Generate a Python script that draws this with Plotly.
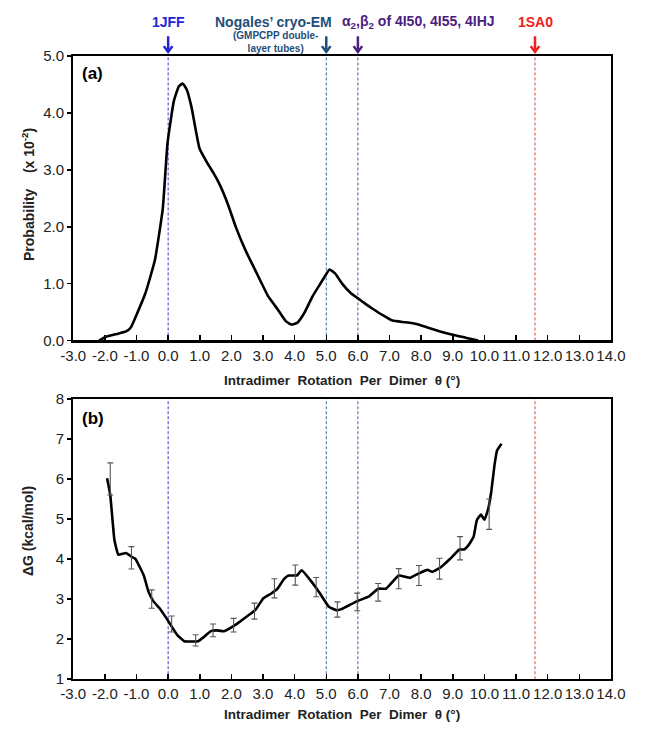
import plotly.graph_objects as go

# ---------------- data ----------------
# Panel (a): probability distribution (x 10^-2)
a_theta = [-2.18, -1.98, -1.58, -1.33, -1.18, -0.97, -0.72, -0.42, -0.17, -0.02, 0.18, 0.34, 0.46, 0.59,
           0.74, 0.99, 1.24, 1.45, 1.65, 1.9, 2.15, 2.45, 2.76, 3.16, 3.46, 3.72, 3.9, 4.08, 4.3, 4.57,
           4.78, 4.98, 5.1, 5.28, 5.5, 5.78, 5.98, 6.25, 6.49, 6.8, 7.09, 7.5, 7.85, 8.2, 8.6, 9.0, 9.4, 9.8]
a_prob = [0.0, 0.06, 0.12, 0.16, 0.23, 0.49, 0.83, 1.41, 2.32, 3.47, 4.21, 4.47, 4.52, 4.41,
          4.10, 3.38, 3.12, 2.93, 2.72, 2.38, 1.98, 1.58, 1.23, 0.78, 0.55, 0.34, 0.28, 0.31, 0.48, 0.78,
          0.97, 1.15, 1.25, 1.18, 1.0, 0.83, 0.75, 0.64, 0.55, 0.44, 0.35, 0.32, 0.29, 0.23, 0.16, 0.1, 0.05, 0.0]

# Panel (b): free energy profile
b_theta = [-1.93, -1.83, -1.70, -1.58, -1.45, -1.33, -1.18, -1.03, -0.77, -0.62, -0.47, -0.27, 0.03, 0.29,
           0.51, 0.95, 1.14, 1.35, 1.52, 1.77, 2.15, 2.56, 2.76, 3.01, 3.26, 3.46, 3.66, 3.81, 4.07, 4.22,
           4.47, 4.77, 5.08, 5.33, 5.48, 5.98, 6.34, 6.64, 6.89, 7.29, 7.65, 7.95, 8.2, 8.35, 8.61, 8.91,
           9.21, 9.36, 9.51, 9.66, 9.76, 9.89, 10.0, 10.12, 10.22, 10.32, 10.4, 10.54]
b_dg = [6.02, 5.6, 4.48, 4.11, 4.13, 4.15, 4.07, 4.0, 3.59, 3.18, 2.95, 2.77, 2.42, 2.1,
        1.95, 1.95, 2.06, 2.2, 2.22, 2.2, 2.37, 2.61, 2.73, 3.02, 3.14, 3.26, 3.5, 3.59, 3.59, 3.72,
        3.5, 3.18, 2.81, 2.72, 2.75, 2.95, 3.06, 3.26, 3.26, 3.59, 3.53, 3.65, 3.73, 3.68, 3.79, 4.0,
        4.24, 4.24, 4.36, 4.56, 4.97, 5.11, 4.98, 5.25, 5.7, 6.35, 6.71, 6.88]

# Error bars of panel (b)
e_theta = [-1.83, -1.16, -0.52, 0.11, 0.87, 1.42, 2.07, 2.73, 3.36, 4.02, 4.68, 5.35, 5.98, 6.64,
           7.29, 7.93, 8.58, 9.23, 10.15]
e_dg = [6.0, 4.03, 3.0, 2.38, 1.97, 2.22, 2.35, 2.7, 3.27, 3.6, 3.3, 2.74, 2.93, 3.17,
        3.51, 3.59, 3.76, 4.27, 5.12]
e_err = [0.4, 0.28, 0.23, 0.2, 0.14, 0.16, 0.17, 0.2, 0.24, 0.25, 0.24, 0.19, 0.22, 0.22,
         0.25, 0.25, 0.26, 0.29, 0.38]

# Reference structures
ref_theta = [0.0, 5.0, 6.0, 11.6]
ref_labels = ["1JFF", "Nogales’ cryo-EM",
              "α<sub>2</sub>,β<sub>2</sub> of 4I50, 4I55, 4IHJ", "1SA0"]
ref_label_x = [0.0, 3.33, 7.92, 11.6]
ref_colors = ["#2323d8", "#1f4e7a", "#4a2080", "#ee2020"]
line_colors = ["#3a3ad0", "#2f6aa8", "#6a4a9a", "#e84040"]
sub_label = "(GMPCPP double-<br>layer tubes)"

x_ticks = [v for v in range(-3, 15)]
a_yticks = [0, 1, 2, 3, 4, 5]
b_yticks = [1, 2, 3, 4, 5, 6, 7, 8]

# ---------------- figure ----------------
W, H = 646, 739
FONT = "Liberation Sans, Arial, sans-serif"

def py(px):  # pixel from top -> paper y
    return 1 - px / H

fig = go.Figure()

fig.add_trace(go.Scatter(x=a_theta, y=a_prob, mode="lines", xaxis="x", yaxis="y",
                         line=dict(color="black", width=2.6, shape="spline", smoothing=0.4),
                         showlegend=False))
fig.add_trace(go.Scatter(x=b_theta, y=b_dg, mode="lines", xaxis="x2", yaxis="y2",
                         line=dict(color="black", width=2.6, shape="spline", smoothing=0.3),
                         showlegend=False))
fig.add_trace(go.Scatter(x=e_theta, y=e_dg, mode="markers", xaxis="x2", yaxis="y2",
                         marker=dict(size=1, color="rgba(0,0,0,0)"),
                         error_y=dict(type="data", array=e_err, visible=True, color="#555555",
                                      thickness=1.1, width=3),
                         showlegend=False))

xdom = [63 / W, 625 / W]
common_x = dict(range=[-3, 14], tickvals=x_ticks, ticktext=[f"{v:.1f}" for v in x_ticks],
                ticks="inside", ticklen=5, tickwidth=1.5, tickcolor="black",
                showline=True, linewidth=2.2, linecolor="black", mirror=True,
                showgrid=False, zeroline=False,
                tickfont=dict(family=FONT, size=15, color="#222"))
common_y = dict(ticks="outside", ticklen=4, tickwidth=1.5, tickcolor="black",
                showline=True, linewidth=2.2, linecolor="black", mirror=True,
                showgrid=False, zeroline=False,
                tickfont=dict(family=FONT, size=15, color="#222"))

fig.update_layout(
    width=W, height=H, margin=dict(l=0, r=0, t=0, b=0),
    paper_bgcolor="white", plot_bgcolor="white",
    xaxis=dict(domain=xdom, anchor="y", **common_x),
    yaxis=dict(domain=[py(339.3), py(48.3)], anchor="x", range=[0, 5], tickvals=a_yticks,
               ticktext=[f"{v:.1f}" for v in a_yticks], **common_y),
    xaxis2=dict(domain=xdom, anchor="y2", **common_x),
    yaxis2=dict(domain=[py(686), py(399)], anchor="x2", range=[1, 8], tickvals=b_yticks,
                ticktext=[str(v) for v in b_yticks], **common_y),
)

shapes = []
for xv, c in zip(ref_theta, line_colors):
    for xr, yr in (("x", "y domain"), ("x2", "y2 domain")):
        shapes.append(dict(type="line", xref=xr, yref=yr, x0=xv, x1=xv, y0=0, y1=1,
                           line=dict(color=c, width=1, dash="3px,2px"), layer="below"))
# arrows above panel (a)
ytop, ybot = py(28), py(44)
yhead = py(38)
dx = 4.5 / 33.06
for xv, c in zip(ref_theta, ref_colors):
    shapes.append(dict(type="line", xref="x", yref="paper", x0=xv, x1=xv, y0=ytop, y1=ybot,
                       line=dict(color=c, width=2.5)))
    shapes.append(dict(type="path", xref="x", yref="paper",
                       path=f"M {xv - dx},{yhead} L {xv},{ybot} L {xv + dx},{yhead}",
                       line=dict(color=c, width=2.5)))
fig.update_layout(shapes=shapes)

ann = []
for lx, lab, c in zip(ref_label_x, ref_labels, ref_colors):
    ann.append(dict(xref="x", yref="paper", x=lx, y=py(13), text=f"<b>{lab}</b>",
                    showarrow=False, xanchor="center", yanchor="middle",
                    font=dict(family=FONT, size=14, color=c)))
ann.append(dict(xref="x", yref="paper", x=ref_label_x[1] + 0.05, y=py(34), text=f"<b>{sub_label}</b>",
                showarrow=False, xanchor="center", yanchor="middle", align="center",
                font=dict(family=FONT, size=10, color=ref_colors[1])))
# panel letters
ann.append(dict(xref="paper", yref="paper", x=70 / W, y=py(66), text="<b>(a)</b>", showarrow=False,
                xanchor="left", yanchor="middle", font=dict(family=FONT, size=17, color="black")))
ann.append(dict(xref="paper", yref="paper", x=70 / W, y=py(419), text="<b>(b)</b>", showarrow=False,
                xanchor="left", yanchor="middle", font=dict(family=FONT, size=17, color="black")))
# axis titles
xtitle = "<b>Intradimer  Rotation  Per  Dimer  θ (°)</b>"
for yy in (380, 722):
    ann.append(dict(xref="paper", yref="paper", x=344 / W, y=py(yy), text=xtitle, showarrow=False,
                    xanchor="center", yanchor="middle", font=dict(family=FONT, size=13.5, color="#222")))
ann.append(dict(xref="paper", yref="paper", x=15 / W, y=py(190),
                text="<b>Probability    (x 10<sup>-2</sup>)</b>", showarrow=False, textangle=-90,
                xanchor="center", yanchor="middle", font=dict(family=FONT, size=14, color="#222")))
ann.append(dict(xref="paper", yref="paper", x=15 / W, y=py(534),
                text="<b>ΔG (kcal/mol)</b>", showarrow=False, textangle=-90,
                xanchor="center", yanchor="middle", font=dict(family=FONT, size=14, color="#222")))
fig.update_layout(annotations=ann)

fig.write_html("out.html", config={"displayModeBar": False, "staticPlot": True},
               post_script="document.body.style.margin='0';document.body.style.overflow='hidden';")
